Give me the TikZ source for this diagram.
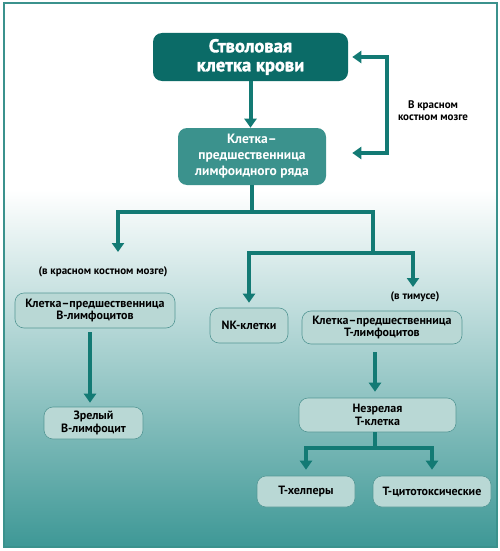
\documentclass[tikz,border=0pt]{standalone}
\usepackage{fontspec}
\setmainfont{PT Sans}
\newfontfamily\heavyfont[BoldFeatures={FakeBold=1.8}]{PT Sans}
\usetikzlibrary{arrows.meta}
\definecolor{tealdark}{HTML}{0B6B67}
\definecolor{tealmid}{HTML}{3B928D}
\definecolor{teallight}{HTML}{B9D8D5}
\definecolor{tealline}{HTML}{137A74}
\definecolor{tealbg}{HTML}{3E9896}

\begin{document}
\begin{tikzpicture}[x=1pt,y=-1pt,
    arr/.style={line width=4pt,draw=tealline,-{Triangle[width=12pt,length=9pt]}},
    bar/.style={line width=4pt,draw=tealline},
    cellbox/.style={rounded corners=9pt,draw=tealdark!70,line width=0.6pt,fill=teallight,
        align=center,font=\bfseries\fontsize{12}{12.5}\selectfont,inner sep=2pt},
    note/.style={align=center,font=\bfseries\fontsize{11}{12}\selectfont}]
    \useasboundingbox (0,0) rectangle (500,551);
    \fill[white] (4,3) rectangle (497,190);
    \shade[top color=white,middle color=teallight!55,bottom color=tealbg] (4,190) rectangle (497,547);
    \draw[tealmid,line width=1.5pt] (4,3) rectangle (497,547);

    \node[cellbox,fill=tealdark,draw=none,text=white,minimum width=195pt,minimum height=48pt,
        font=\heavyfont\bfseries\fontsize{18.5}{19}\selectfont] (stem) at (250.5,57) {Стволовая\\клетка крови};
    \node[cellbox,fill=tealmid,draw=none,text=white,minimum width=148pt,minimum height=57pt,
        font=\bfseries\fontsize{13.5}{16}\selectfont] (lymph) at (252,156.5) {Клетка–\\предшественница\\лимфоидного ряда};
    \node[cellbox,minimum width=160pt,minimum height=35pt] (bpre) at (95,310.5) {Клетка–предшественница\\В-лимфоцитов};
    \node[cellbox,minimum width=78pt,minimum height=35pt] (nk) at (249,325.5) {NK-клетки};
    \node[cellbox,minimum width=160pt,minimum height=33pt] (tpre) at (382,327.5) {Клетка–предшественница\\Т-лимфоцитов};
    \node[cellbox,minimum width=99pt,minimum height=32pt] (bmat) at (93.5,423) {Зрелый\\В-лимфоцит};
    \node[cellbox,minimum width=157pt,minimum height=34pt] (timm) at (377.5,415) {Незрелая\\Т-клетка};
    \node[cellbox,minimum width=98pt,minimum height=31pt] (thelp) at (306,491.5) {Т-хелперы};
    \node[cellbox,minimum width=118pt,minimum height=31pt] (tcyto) at (432,491.5) {Т-цитотоксические};

    \node[note] (bm) at (433,111) {В красном\\костном мозге};
    \node[note] (bmb) at (103,272) {(в красном костном мозге)};
    \node[note] (thy) at (415,297) {(в тимусе)};

    \coordinate (rt) at (387,57);
    \coordinate (rb) at (387,153);
    \coordinate (s1) at (252,212);
    \coordinate (bl) at (118,212);
    \coordinate (br) at (373,212);
    \coordinate (bt) at (118,252);
    \coordinate (s2) at (373,253);
    \coordinate (tt) at (413,287);
    \coordinate (s3) at (375,448);

    \draw[arr] (stem.south) -- (stem.south |- lymph.north);
    \draw[line width=4pt,draw=tealline,{Triangle[width=12pt,length=9pt]}-{Triangle[width=12pt,length=9pt]}]
        ([xshift=4pt]stem.east) -- (rt) -- (rb) -- ([xshift=26pt]lymph.east |- rb);
    \draw[bar] (lymph.south) -- (s1);
    \draw[arr] (br) -- (bl) -- (bt);
    \draw[bar] (s1) -- (br) -- (s2);
    \draw[arr,shorten >=5pt] (s2) -| (nk.north);
    \draw[arr] (s2) -| (tt);
    \draw[arr,shorten <=4pt,shorten >=4pt] ([xshift=-5pt]bpre.south) -- ([xshift=-5pt]bpre.south |- bmat.north);
    \draw[arr,shorten <=8pt,shorten >=6pt] ([xshift=-7pt]tpre.south) -- ([xshift=-7pt]tpre.south |- timm.north);
    \draw[bar] (timm.south -| s3) -- (s3);
    \draw[arr,shorten >=6pt] (s3) -| (thelp.north);
    \draw[arr,shorten >=6pt] (s3) -| (tcyto.north);
\end{tikzpicture}
\end{document}
